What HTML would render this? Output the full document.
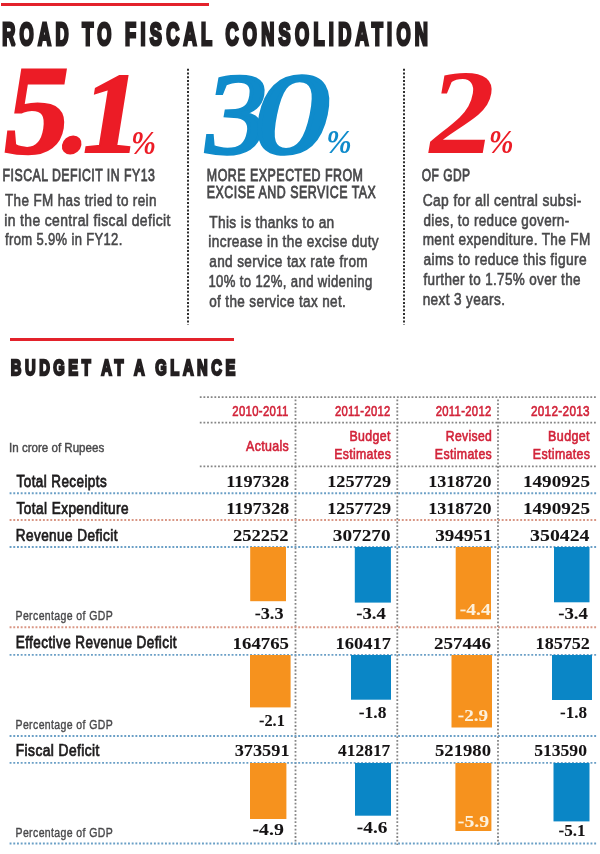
<!DOCTYPE html>
<html><head><meta charset="utf-8"><title>Road to Fiscal Consolidation</title>
<style>
html,body{margin:0;padding:0;background:#fff;}
body{width:600px;height:854px;overflow:hidden;}
svg{display:block;}
</style></head>
<body>
<svg width="600" height="854" viewBox="0 0 600 854">
<rect x="0" y="0" width="600" height="854" fill="#ffffff"/>
<rect x="1" y="3" width="208.00" height="3.00" fill="#e3222b"/>
<line x1="188" y1="68.8" x2="188" y2="324.5" stroke="#2e2e2e" stroke-width="2" stroke-dasharray="2 1.70"/>
<line x1="404" y1="68.8" x2="404" y2="324.5" stroke="#2e2e2e" stroke-width="2" stroke-dasharray="2 1.70"/>
<rect x="10" y="338" width="224.00" height="3.00" fill="#e3222b"/>
<line x1="199.8" y1="397.1" x2="596.8" y2="397.1" stroke="#858585" stroke-width="1.8" stroke-dasharray="1.8 1.85"/>
<line x1="199.8" y1="422.7" x2="596.8" y2="422.7" stroke="#858585" stroke-width="1.8" stroke-dasharray="1.8 1.85"/>
<line x1="199.8" y1="466.4" x2="596.8" y2="466.4" stroke="#858585" stroke-width="1.8" stroke-dasharray="1.8 1.85"/>
<line x1="295.5" y1="399.5" x2="295.5" y2="845" stroke="#858585" stroke-width="1.8" stroke-dasharray="1.8 1.90"/>
<line x1="397.3" y1="399.5" x2="397.3" y2="845" stroke="#858585" stroke-width="1.8" stroke-dasharray="1.8 1.90"/>
<line x1="498" y1="399.5" x2="498" y2="845" stroke="#858585" stroke-width="1.8" stroke-dasharray="1.8 1.90"/>
<line x1="9.6" y1="493.3" x2="596.8" y2="493.3" stroke="#6a9fc6" stroke-width="1.9" stroke-dasharray="1.9 1.80"/>
<line x1="9.6" y1="520.0" x2="596.8" y2="520.0" stroke="#d99684" stroke-width="1.9" stroke-dasharray="1.9 1.80"/>
<line x1="9.6" y1="547.0" x2="596.8" y2="547.0" stroke="#6a9fc6" stroke-width="1.9" stroke-dasharray="1.9 1.80"/>
<line x1="9.6" y1="627.3" x2="596.8" y2="627.3" stroke="#d99684" stroke-width="1.9" stroke-dasharray="1.9 1.80"/>
<line x1="9.6" y1="654.9" x2="596.8" y2="654.9" stroke="#6a9fc6" stroke-width="1.9" stroke-dasharray="1.9 1.80"/>
<line x1="9.6" y1="736.0" x2="596.8" y2="736.0" stroke="#6a9fc6" stroke-width="1.9" stroke-dasharray="1.9 1.80"/>
<line x1="9.6" y1="762.9" x2="596.8" y2="762.9" stroke="#6a9fc6" stroke-width="1.9" stroke-dasharray="1.9 1.80"/>
<line x1="9.6" y1="843.5" x2="596.8" y2="843.5" stroke="#6a9fc6" stroke-width="1.9" stroke-dasharray="1.9 1.80"/>
<rect x="250.2" y="547" width="35.80" height="54.20" fill="#f6921e"/>
<rect x="354.8" y="547" width="36.10" height="55.60" fill="#0a86c6"/>
<rect x="455.7" y="547" width="35.30" height="72.30" fill="#f6921e"/>
<rect x="554" y="547" width="35.50" height="55.30" fill="#0a86c6"/>
<rect x="250" y="655" width="40.60" height="52.40" fill="#f6921e"/>
<rect x="351" y="655" width="40.00" height="44.70" fill="#0a86c6"/>
<rect x="451.5" y="655" width="40.50" height="72.50" fill="#f6921e"/>
<rect x="552" y="655" width="40.00" height="45.00" fill="#0a86c6"/>
<rect x="250" y="763" width="36.40" height="56.00" fill="#f6921e"/>
<rect x="355" y="763" width="36.00" height="52.70" fill="#0a86c6"/>
<rect x="455.4" y="763" width="36.00" height="68.00" fill="#f6921e"/>
<rect x="553.5" y="763" width="36.00" height="58.40" fill="#0a86c6"/>
<text transform="translate(2.22,45.20) scale(0.5407,0.9304)" fill="#231f20" stroke="#231f20" stroke-width="2.6" stroke-linejoin="miter" stroke-miterlimit="2" vector-effect="non-scaling-stroke" style="font-family:'Liberation Sans', Arial, sans-serif;font-size:33.5px;font-weight:700;letter-spacing:8px;">ROAD TO FISCAL CONSOLIDATION</text>
<text transform="translate(-0.19,152.84) scale(1.0789,1.0787) skewX(-9)" fill="#ec1c26" stroke="#ec1c26" stroke-width="2.0" stroke-linejoin="miter" stroke-miterlimit="2" style="font-family:'Liberation Serif', 'Times New Roman', serif;font-size:118px;font-weight:700;">5</text>
<text transform="translate(56.91,151.53) scale(0.9182,0.8905) skewX(-9)" fill="#ec1c26" stroke="#ec1c26" stroke-width="2.0" stroke-linejoin="miter" stroke-miterlimit="2" style="font-family:'Liberation Serif', 'Times New Roman', serif;font-size:118px;font-weight:700;">.</text>
<text transform="translate(76.29,151.72) scale(0.9894,0.9750) skewX(-9)" fill="#ec1c26" stroke="#ec1c26" stroke-width="2.0" stroke-linejoin="miter" stroke-miterlimit="2" style="font-family:'Liberation Serif', 'Times New Roman', serif;font-size:118px;font-weight:700;">1</text>
<text transform="translate(131.00,153.80) scale(1.0000,1.1211)" fill="#ec1c26" style="font-family:'Liberation Serif', 'Times New Roman', serif;font-size:30px;font-weight:700;font-style:italic;">%</text>
<text transform="translate(199.04,152.76) scale(1.0526,0.9807) skewX(-9)" fill="#0f8bcb" stroke="#0f8bcb" stroke-width="3.5" stroke-linejoin="miter" stroke-miterlimit="2" style="font-family:'Liberation Serif', 'Times New Roman', serif;font-size:118px;font-weight:400;">3</text>
<text transform="translate(247.41,152.76) scale(1.2857,0.9807) skewX(-9)" fill="#0f8bcb" stroke="#0f8bcb" stroke-width="3.5" stroke-linejoin="miter" stroke-miterlimit="2" style="font-family:'Liberation Serif', 'Times New Roman', serif;font-size:118px;font-weight:400;">0</text>
<text transform="translate(326.26,153.00) scale(1.0190,1.1211)" fill="#0f8bcb" style="font-family:'Liberation Serif', 'Times New Roman', serif;font-size:30px;font-weight:700;font-style:italic;">%</text>
<text transform="translate(422.74,153.30) scale(1.1123,1.0256) skewX(-9)" fill="#ec1c26" style="font-family:'Liberation Serif', 'Times New Roman', serif;font-size:118px;font-weight:700;">2</text>
<text transform="translate(488.81,153.30) scale(0.9952,1.0947)" fill="#ec1c26" style="font-family:'Liberation Serif', 'Times New Roman', serif;font-size:30px;font-weight:700;font-style:italic;">%</text>
<text transform="translate(2.59,180.70) scale(0.7061,1.0000)" fill="#48484a" stroke="#48484a" stroke-width="0.85" stroke-linejoin="miter" stroke-miterlimit="2" style="font-family:'Liberation Sans', Arial, sans-serif;font-size:17.4px;font-weight:400;letter-spacing:0.7px;">FISCAL DEFICIT IN FY13</text>
<text transform="translate(206.79,180.80) scale(0.7143,1.0000)" fill="#48484a" stroke="#48484a" stroke-width="0.85" stroke-linejoin="miter" stroke-miterlimit="2" style="font-family:'Liberation Sans', Arial, sans-serif;font-size:17.4px;font-weight:400;letter-spacing:0.7px;">MORE EXPECTED FROM</text>
<text transform="translate(206.79,198.20) scale(0.7131,1.0000)" fill="#48484a" stroke="#48484a" stroke-width="0.85" stroke-linejoin="miter" stroke-miterlimit="2" style="font-family:'Liberation Sans', Arial, sans-serif;font-size:17.4px;font-weight:400;letter-spacing:0.7px;">EXCISE AND SERVICE TAX</text>
<text transform="translate(421.70,180.70) scale(0.6900,1.0000)" fill="#48484a" stroke="#48484a" stroke-width="0.85" stroke-linejoin="miter" stroke-miterlimit="2" style="font-family:'Liberation Sans', Arial, sans-serif;font-size:17.4px;font-weight:400;letter-spacing:0.7px;">OF GDP</text>
<text transform="translate(5.00,205.80) scale(0.8173,1.0000)" fill="#48484a" stroke="#48484a" stroke-width="0.6" stroke-linejoin="miter" stroke-miterlimit="2" style="font-family:'Liberation Sans', Arial, sans-serif;font-size:16.5px;font-weight:400;letter-spacing:0.45px;">The FM has tried to rein</text>
<text transform="translate(4.16,225.55) scale(0.8444,1.0000)" fill="#48484a" stroke="#48484a" stroke-width="0.6" stroke-linejoin="miter" stroke-miterlimit="2" style="font-family:'Liberation Sans', Arial, sans-serif;font-size:16.5px;font-weight:400;letter-spacing:0.45px;">in the central fiscal deficit</text>
<text transform="translate(5.00,245.30) scale(0.7885,1.0000)" fill="#48484a" stroke="#48484a" stroke-width="0.6" stroke-linejoin="miter" stroke-miterlimit="2" style="font-family:'Liberation Sans', Arial, sans-serif;font-size:16.5px;font-weight:400;letter-spacing:0.45px;">from 5.9% in FY12.</text>
<text transform="translate(209.20,227.50) scale(0.8300,1.0000)" fill="#48484a" stroke="#48484a" stroke-width="0.6" stroke-linejoin="miter" stroke-miterlimit="2" style="font-family:'Liberation Sans', Arial, sans-serif;font-size:16.5px;font-weight:400;letter-spacing:0.45px;">This is thanks to an</text>
<text transform="translate(208.37,247.30) scale(0.8268,1.0000)" fill="#48484a" stroke="#48484a" stroke-width="0.6" stroke-linejoin="miter" stroke-miterlimit="2" style="font-family:'Liberation Sans', Arial, sans-serif;font-size:16.5px;font-weight:400;letter-spacing:0.45px;">increase in the excise duty</text>
<text transform="translate(209.20,267.10) scale(0.8245,1.0000)" fill="#48484a" stroke="#48484a" stroke-width="0.6" stroke-linejoin="miter" stroke-miterlimit="2" style="font-family:'Liberation Sans', Arial, sans-serif;font-size:16.5px;font-weight:400;letter-spacing:0.45px;">and service tax rate from</text>
<text transform="translate(208.40,286.90) scale(0.7966,1.0000)" fill="#48484a" stroke="#48484a" stroke-width="0.6" stroke-linejoin="miter" stroke-miterlimit="2" style="font-family:'Liberation Sans', Arial, sans-serif;font-size:16.5px;font-weight:400;letter-spacing:0.45px;">10% to 12%, and widening</text>
<text transform="translate(209.20,306.70) scale(0.8199,1.0000)" fill="#48484a" stroke="#48484a" stroke-width="0.6" stroke-linejoin="miter" stroke-miterlimit="2" style="font-family:'Liberation Sans', Arial, sans-serif;font-size:16.5px;font-weight:400;letter-spacing:0.45px;">of the service tax net.</text>
<text transform="translate(422.66,205.80) scale(0.8388,1.0000)" fill="#48484a" stroke="#48484a" stroke-width="0.6" stroke-linejoin="miter" stroke-miterlimit="2" style="font-family:'Liberation Sans', Arial, sans-serif;font-size:16.5px;font-weight:400;letter-spacing:0.45px;">Cap for all central subsi-</text>
<text transform="translate(423.50,225.55) scale(0.8157,1.0000)" fill="#48484a" stroke="#48484a" stroke-width="0.6" stroke-linejoin="miter" stroke-miterlimit="2" style="font-family:'Liberation Sans', Arial, sans-serif;font-size:16.5px;font-weight:400;letter-spacing:0.45px;">dies, to reduce govern-</text>
<text transform="translate(422.68,245.30) scale(0.8243,1.0000)" fill="#48484a" stroke="#48484a" stroke-width="0.6" stroke-linejoin="miter" stroke-miterlimit="2" style="font-family:'Liberation Sans', Arial, sans-serif;font-size:16.5px;font-weight:400;letter-spacing:0.45px;">ment expenditure. The FM</text>
<text transform="translate(423.50,265.05) scale(0.8349,1.0000)" fill="#48484a" stroke="#48484a" stroke-width="0.6" stroke-linejoin="miter" stroke-miterlimit="2" style="font-family:'Liberation Sans', Arial, sans-serif;font-size:16.5px;font-weight:400;letter-spacing:0.45px;">aims to reduce this figure</text>
<text transform="translate(423.50,284.80) scale(0.8167,1.0000)" fill="#48484a" stroke="#48484a" stroke-width="0.6" stroke-linejoin="miter" stroke-miterlimit="2" style="font-family:'Liberation Sans', Arial, sans-serif;font-size:16.5px;font-weight:400;letter-spacing:0.45px;">further to 1.75% over the</text>
<text transform="translate(422.68,304.55) scale(0.8245,1.0000)" fill="#48484a" stroke="#48484a" stroke-width="0.6" stroke-linejoin="miter" stroke-miterlimit="2" style="font-family:'Liberation Sans', Arial, sans-serif;font-size:16.5px;font-weight:400;letter-spacing:0.45px;">next 3 years.</text>
<text transform="translate(10.82,374.60) scale(0.5899,0.8889)" fill="#231f20" stroke="#231f20" stroke-width="2.0" stroke-linejoin="miter" stroke-miterlimit="2" vector-effect="non-scaling-stroke" style="font-family:'Liberation Sans', Arial, sans-serif;font-size:25px;font-weight:700;letter-spacing:6px;">BUDGET AT A GLANCE</text>
<text transform="translate(232.30,416.40) scale(0.8000,1.0000)" fill="#d22339" stroke="#d22339" stroke-width="0.6" stroke-linejoin="miter" stroke-miterlimit="2" style="font-family:'Liberation Sans', Arial, sans-serif;font-size:14.2px;font-weight:400;letter-spacing:0.4px;">2010-2011</text>
<text transform="translate(334.90,416.40) scale(0.7929,1.0000)" fill="#d22339" stroke="#d22339" stroke-width="0.6" stroke-linejoin="miter" stroke-miterlimit="2" style="font-family:'Liberation Sans', Arial, sans-serif;font-size:14.2px;font-weight:400;letter-spacing:0.4px;">2011-2012</text>
<text transform="translate(435.70,416.40) scale(0.7943,1.0000)" fill="#d22339" stroke="#d22339" stroke-width="0.6" stroke-linejoin="miter" stroke-miterlimit="2" style="font-family:'Liberation Sans', Arial, sans-serif;font-size:14.2px;font-weight:400;letter-spacing:0.4px;">2011-2012</text>
<text transform="translate(530.90,416.40) scale(0.8268,1.0000)" fill="#d22339" stroke="#d22339" stroke-width="0.6" stroke-linejoin="miter" stroke-miterlimit="2" style="font-family:'Liberation Sans', Arial, sans-serif;font-size:14.2px;font-weight:400;letter-spacing:0.4px;">2012-2013</text>
<text transform="translate(246.00,451.10) scale(0.8755,1.0000)" fill="#d22339" stroke="#d22339" stroke-width="0.6" stroke-linejoin="miter" stroke-miterlimit="2" style="font-family:'Liberation Sans', Arial, sans-serif;font-size:14.2px;font-weight:400;letter-spacing:0.4px;">Actuals</text>
<text transform="translate(349.53,441.00) scale(0.8696,1.0000)" fill="#d22339" stroke="#d22339" stroke-width="0.6" stroke-linejoin="miter" stroke-miterlimit="2" style="font-family:'Liberation Sans', Arial, sans-serif;font-size:14.2px;font-weight:400;letter-spacing:0.4px;">Budget</text>
<text transform="translate(334.13,459.00) scale(0.8656,1.0000)" fill="#d22339" stroke="#d22339" stroke-width="0.6" stroke-linejoin="miter" stroke-miterlimit="2" style="font-family:'Liberation Sans', Arial, sans-serif;font-size:14.2px;font-weight:400;letter-spacing:0.4px;">Estimates</text>
<text transform="translate(445.84,441.00) scale(0.8577,1.0000)" fill="#d22339" stroke="#d22339" stroke-width="0.6" stroke-linejoin="miter" stroke-miterlimit="2" style="font-family:'Liberation Sans', Arial, sans-serif;font-size:14.2px;font-weight:400;letter-spacing:0.4px;">Revised</text>
<text transform="translate(434.83,459.00) scale(0.8688,1.0000)" fill="#d22339" stroke="#d22339" stroke-width="0.6" stroke-linejoin="miter" stroke-miterlimit="2" style="font-family:'Liberation Sans', Arial, sans-serif;font-size:14.2px;font-weight:400;letter-spacing:0.4px;">Estimates</text>
<text transform="translate(548.12,441.00) scale(0.8826,1.0000)" fill="#d22339" stroke="#d22339" stroke-width="0.6" stroke-linejoin="miter" stroke-miterlimit="2" style="font-family:'Liberation Sans', Arial, sans-serif;font-size:14.2px;font-weight:400;letter-spacing:0.4px;">Budget</text>
<text transform="translate(532.83,459.00) scale(0.8734,1.0000)" fill="#d22339" stroke="#d22339" stroke-width="0.6" stroke-linejoin="miter" stroke-miterlimit="2" style="font-family:'Liberation Sans', Arial, sans-serif;font-size:14.2px;font-weight:400;letter-spacing:0.4px;">Estimates</text>
<text transform="translate(9.05,451.70) scale(0.9495,1.0000)" fill="#48484a" stroke="#48484a" stroke-width="0.4" stroke-linejoin="miter" stroke-miterlimit="2" style="font-family:'Liberation Sans', Arial, sans-serif;font-size:12.2px;font-weight:400;">In crore of Rupees</text>
<text transform="translate(16.60,486.80) scale(0.8421,1.0000)" fill="#1e1c1d" stroke="#1e1c1d" stroke-width="0.75" stroke-linejoin="miter" stroke-miterlimit="2" style="font-family:'Liberation Sans', Arial, sans-serif;font-size:16px;font-weight:400;letter-spacing:0.5px;">Total Receipts</text>
<text transform="translate(16.60,513.80) scale(0.8504,1.0000)" fill="#1e1c1d" stroke="#1e1c1d" stroke-width="0.75" stroke-linejoin="miter" stroke-miterlimit="2" style="font-family:'Liberation Sans', Arial, sans-serif;font-size:16px;font-weight:400;letter-spacing:0.5px;">Total Expenditure</text>
<text transform="translate(15.75,540.70) scale(0.8487,1.0000)" fill="#1e1c1d" stroke="#1e1c1d" stroke-width="0.75" stroke-linejoin="miter" stroke-miterlimit="2" style="font-family:'Liberation Sans', Arial, sans-serif;font-size:16px;font-weight:400;letter-spacing:0.5px;">Revenue Deficit</text>
<text transform="translate(15.75,648.30) scale(0.8458,1.0000)" fill="#1e1c1d" stroke="#1e1c1d" stroke-width="0.75" stroke-linejoin="miter" stroke-miterlimit="2" style="font-family:'Liberation Sans', Arial, sans-serif;font-size:16px;font-weight:400;letter-spacing:0.5px;">Effective Revenue Deficit</text>
<text transform="translate(15.74,756.00) scale(0.8615,1.0000)" fill="#1e1c1d" stroke="#1e1c1d" stroke-width="0.75" stroke-linejoin="miter" stroke-miterlimit="2" style="font-family:'Liberation Sans', Arial, sans-serif;font-size:16px;font-weight:400;letter-spacing:0.5px;">Fiscal Deficit</text>
<text transform="translate(15.52,620.30) scale(0.7774,1.0000)" fill="#48484a" stroke="#48484a" stroke-width="0.4" stroke-linejoin="miter" stroke-miterlimit="2" style="font-family:'Liberation Sans', Arial, sans-serif;font-size:13.5px;font-weight:400;letter-spacing:0.5px;">Percentage of GDP</text>
<text transform="translate(15.52,729.00) scale(0.7774,1.0000)" fill="#48484a" stroke="#48484a" stroke-width="0.4" stroke-linejoin="miter" stroke-miterlimit="2" style="font-family:'Liberation Sans', Arial, sans-serif;font-size:13.5px;font-weight:400;letter-spacing:0.5px;">Percentage of GDP</text>
<text transform="translate(15.52,836.70) scale(0.7774,1.0000)" fill="#48484a" stroke="#48484a" stroke-width="0.4" stroke-linejoin="miter" stroke-miterlimit="2" style="font-family:'Liberation Sans', Arial, sans-serif;font-size:13.5px;font-weight:400;letter-spacing:0.5px;">Percentage of GDP</text>
<text transform="translate(226.21,487.40) scale(1.0893,1.0000)" fill="#151314" stroke="#151314" stroke-width="0.05" stroke-linejoin="miter" stroke-miterlimit="2" style="font-family:'Liberation Serif', 'Times New Roman', serif;font-size:16.8px;font-weight:700;">1197328</text>
<text transform="translate(327.21,487.40) scale(1.0860,1.0000)" fill="#151314" stroke="#151314" stroke-width="0.05" stroke-linejoin="miter" stroke-miterlimit="2" style="font-family:'Liberation Serif', 'Times New Roman', serif;font-size:16.8px;font-weight:700;">1257729</text>
<text transform="translate(428.22,487.40) scale(1.0754,1.0000)" fill="#151314" stroke="#151314" stroke-width="0.05" stroke-linejoin="miter" stroke-miterlimit="2" style="font-family:'Liberation Serif', 'Times New Roman', serif;font-size:16.8px;font-weight:700;">1318720</text>
<text transform="translate(522.96,487.40) scale(1.1404,1.0000)" fill="#151314" stroke="#151314" stroke-width="0.05" stroke-linejoin="miter" stroke-miterlimit="2" style="font-family:'Liberation Serif', 'Times New Roman', serif;font-size:16.8px;font-weight:700;">1490925</text>
<text transform="translate(226.21,514.20) scale(1.0893,1.0000)" fill="#151314" stroke="#151314" stroke-width="0.05" stroke-linejoin="miter" stroke-miterlimit="2" style="font-family:'Liberation Serif', 'Times New Roman', serif;font-size:16.8px;font-weight:700;">1197328</text>
<text transform="translate(327.21,514.20) scale(1.0860,1.0000)" fill="#151314" stroke="#151314" stroke-width="0.05" stroke-linejoin="miter" stroke-miterlimit="2" style="font-family:'Liberation Serif', 'Times New Roman', serif;font-size:16.8px;font-weight:700;">1257729</text>
<text transform="translate(428.22,514.20) scale(1.0754,1.0000)" fill="#151314" stroke="#151314" stroke-width="0.05" stroke-linejoin="miter" stroke-miterlimit="2" style="font-family:'Liberation Serif', 'Times New Roman', serif;font-size:16.8px;font-weight:700;">1318720</text>
<text transform="translate(522.96,514.20) scale(1.1404,1.0000)" fill="#151314" stroke="#151314" stroke-width="0.05" stroke-linejoin="miter" stroke-miterlimit="2" style="font-family:'Liberation Serif', 'Times New Roman', serif;font-size:16.8px;font-weight:700;">1490925</text>
<text transform="translate(232.90,541.00) scale(1.1041,1.0000)" fill="#151314" stroke="#151314" stroke-width="0.05" stroke-linejoin="miter" stroke-miterlimit="2" style="font-family:'Liberation Serif', 'Times New Roman', serif;font-size:16.8px;font-weight:700;">252252</text>
<text transform="translate(332.86,541.00) scale(1.1449,1.0000)" fill="#151314" stroke="#151314" stroke-width="0.05" stroke-linejoin="miter" stroke-miterlimit="2" style="font-family:'Liberation Serif', 'Times New Roman', serif;font-size:16.8px;font-weight:700;">307270</text>
<text transform="translate(435.17,541.00) scale(1.1333,1.0000)" fill="#151314" stroke="#151314" stroke-width="0.05" stroke-linejoin="miter" stroke-miterlimit="2" style="font-family:'Liberation Serif', 'Times New Roman', serif;font-size:16.8px;font-weight:700;">394951</text>
<text transform="translate(530.12,541.00) scale(1.1776,1.0000)" fill="#151314" stroke="#151314" stroke-width="0.05" stroke-linejoin="miter" stroke-miterlimit="2" style="font-family:'Liberation Serif', 'Times New Roman', serif;font-size:16.8px;font-weight:700;">350424</text>
<text transform="translate(232.58,648.80) scale(1.1204,1.0000)" fill="#151314" stroke="#151314" stroke-width="0.05" stroke-linejoin="miter" stroke-miterlimit="2" style="font-family:'Liberation Serif', 'Times New Roman', serif;font-size:16.8px;font-weight:700;">164765</text>
<text transform="translate(335.60,648.80) scale(1.1000,1.0000)" fill="#151314" stroke="#151314" stroke-width="0.05" stroke-linejoin="miter" stroke-miterlimit="2" style="font-family:'Liberation Serif', 'Times New Roman', serif;font-size:16.8px;font-weight:700;">160417</text>
<text transform="translate(434.07,648.80) scale(1.1306,1.0000)" fill="#151314" stroke="#151314" stroke-width="0.05" stroke-linejoin="miter" stroke-miterlimit="2" style="font-family:'Liberation Serif', 'Times New Roman', serif;font-size:16.8px;font-weight:700;">257446</text>
<text transform="translate(535.62,648.80) scale(1.0776,1.0000)" fill="#151314" stroke="#151314" stroke-width="0.05" stroke-linejoin="miter" stroke-miterlimit="2" style="font-family:'Liberation Serif', 'Times New Roman', serif;font-size:16.8px;font-weight:700;">185752</text>
<text transform="translate(234.71,756.40) scale(1.0875,1.0000)" fill="#151314" stroke="#151314" stroke-width="0.05" stroke-linejoin="miter" stroke-miterlimit="2" style="font-family:'Liberation Serif', 'Times New Roman', serif;font-size:16.8px;font-weight:700;">373591</text>
<text transform="translate(338.10,756.40) scale(1.0360,1.0000)" fill="#151314" stroke="#151314" stroke-width="0.05" stroke-linejoin="miter" stroke-miterlimit="2" style="font-family:'Liberation Serif', 'Times New Roman', serif;font-size:16.8px;font-weight:700;">412817</text>
<text transform="translate(434.99,756.40) scale(1.1122,1.0000)" fill="#151314" stroke="#151314" stroke-width="0.05" stroke-linejoin="miter" stroke-miterlimit="2" style="font-family:'Liberation Serif', 'Times New Roman', serif;font-size:16.8px;font-weight:700;">521980</text>
<text transform="translate(534.15,756.40) scale(1.0490,1.0000)" fill="#151314" stroke="#151314" stroke-width="0.05" stroke-linejoin="miter" stroke-miterlimit="2" style="font-family:'Liberation Serif', 'Times New Roman', serif;font-size:16.8px;font-weight:700;">513590</text>
<text transform="translate(254.72,619.20) scale(1.0840,1.0000)" fill="#151314" stroke="#151314" stroke-width="0.05" stroke-linejoin="miter" stroke-miterlimit="2" style="font-family:'Liberation Serif', 'Times New Roman', serif;font-size:16.8px;font-weight:700;">-3.3</text>
<text transform="translate(356.19,619.20) scale(1.1120,1.0000)" fill="#151314" stroke="#151314" stroke-width="0.05" stroke-linejoin="miter" stroke-miterlimit="2" style="font-family:'Liberation Serif', 'Times New Roman', serif;font-size:16.8px;font-weight:700;">-3.4</text>
<text transform="translate(459.84,614.50) scale(1.1600,1.0000)" fill="#fdf1dc" stroke="#fdf1dc" stroke-width="0.05" stroke-linejoin="miter" stroke-miterlimit="2" style="font-family:'Liberation Serif', 'Times New Roman', serif;font-size:16.8px;font-weight:700;">-4.4</text>
<text transform="translate(558.18,618.60) scale(1.1200,1.0000)" fill="#151314" stroke="#151314" stroke-width="0.05" stroke-linejoin="miter" stroke-miterlimit="2" style="font-family:'Liberation Serif', 'Times New Roman', serif;font-size:16.8px;font-weight:700;">-3.4</text>
<text transform="translate(259.03,726.00) scale(0.9720,1.0000)" fill="#151314" stroke="#151314" stroke-width="0.05" stroke-linejoin="miter" stroke-miterlimit="2" style="font-family:'Liberation Serif', 'Times New Roman', serif;font-size:16.8px;font-weight:700;">-2.1</text>
<text transform="translate(358.76,717.60) scale(1.0400,1.0000)" fill="#151314" stroke="#151314" stroke-width="0.05" stroke-linejoin="miter" stroke-miterlimit="2" style="font-family:'Liberation Serif', 'Times New Roman', serif;font-size:16.8px;font-weight:700;">-1.8</text>
<text transform="translate(457.86,721.40) scale(1.1400,1.0000)" fill="#fdf1dc" stroke="#fdf1dc" stroke-width="0.05" stroke-linejoin="miter" stroke-miterlimit="2" style="font-family:'Liberation Serif', 'Times New Roman', serif;font-size:16.8px;font-weight:700;">-2.9</text>
<text transform="translate(559.98,718.00) scale(1.0200,1.0000)" fill="#151314" stroke="#151314" stroke-width="0.05" stroke-linejoin="miter" stroke-miterlimit="2" style="font-family:'Liberation Serif', 'Times New Roman', serif;font-size:16.8px;font-weight:700;">-1.8</text>
<text transform="translate(252.52,835.00) scale(1.1800,1.0000)" fill="#151314" stroke="#151314" stroke-width="0.05" stroke-linejoin="miter" stroke-miterlimit="2" style="font-family:'Liberation Serif', 'Times New Roman', serif;font-size:16.8px;font-weight:700;">-4.9</text>
<text transform="translate(356.85,833.00) scale(1.1480,1.0000)" fill="#151314" stroke="#151314" stroke-width="0.05" stroke-linejoin="miter" stroke-miterlimit="2" style="font-family:'Liberation Serif', 'Times New Roman', serif;font-size:16.8px;font-weight:700;">-4.6</text>
<text transform="translate(457.82,826.80) scale(1.1760,1.0000)" fill="#fdf1dc" stroke="#fdf1dc" stroke-width="0.05" stroke-linejoin="miter" stroke-miterlimit="2" style="font-family:'Liberation Serif', 'Times New Roman', serif;font-size:16.8px;font-weight:700;">-5.9</text>
<text transform="translate(558.48,836.00) scale(1.0200,1.0000)" fill="#151314" stroke="#151314" stroke-width="0.05" stroke-linejoin="miter" stroke-miterlimit="2" style="font-family:'Liberation Serif', 'Times New Roman', serif;font-size:16.8px;font-weight:700;">-5.1</text>
</svg>
</body></html>
